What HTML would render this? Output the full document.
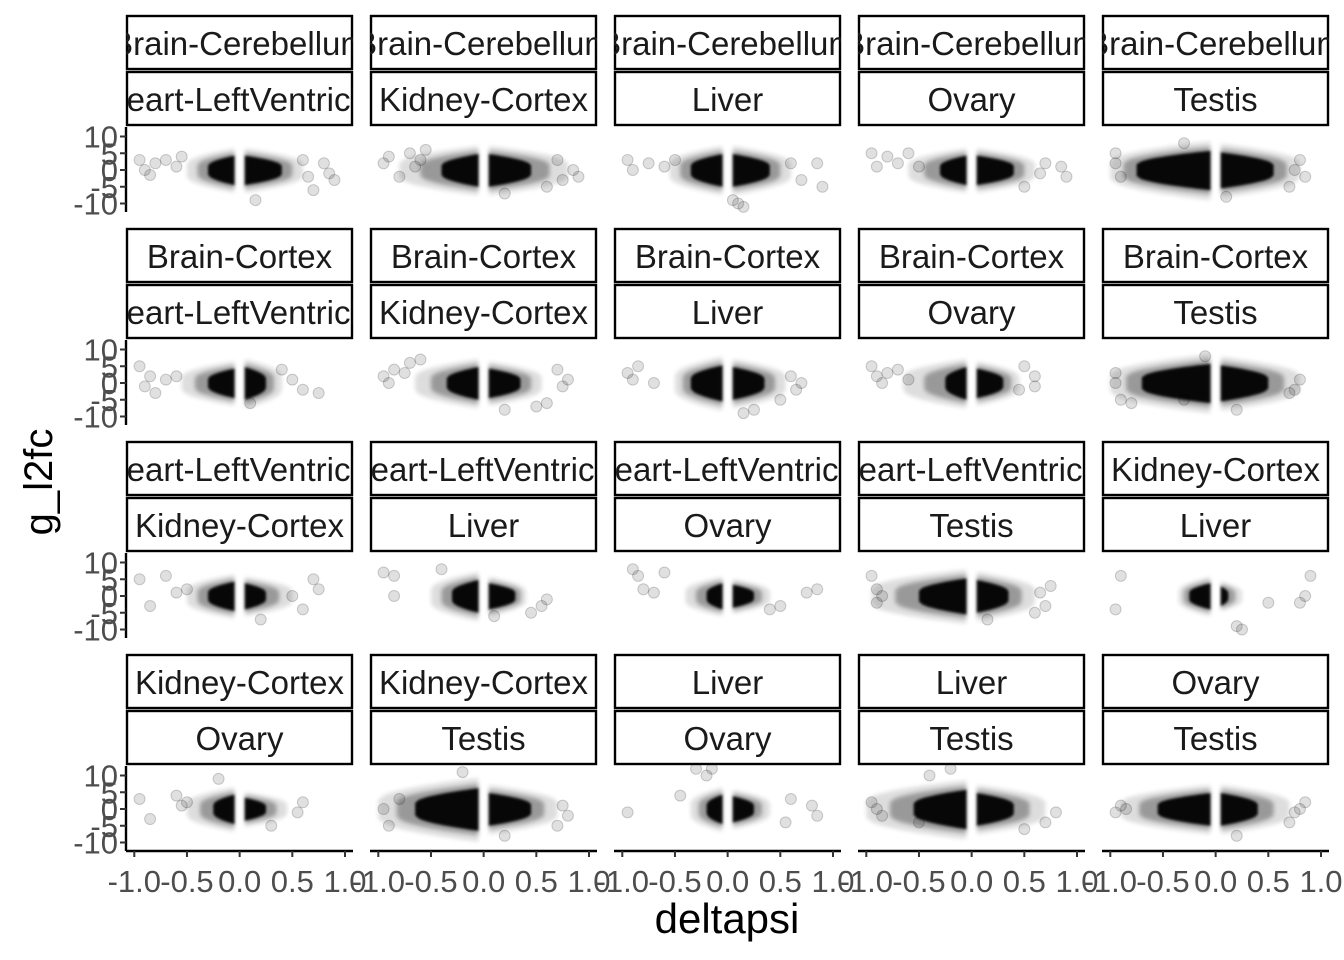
<!DOCTYPE html>
<html><head><meta charset="utf-8"><style>
html,body{margin:0;padding:0;background:#fff;}
svg{display:block;}
</style></head><body>
<svg id="chart" width="1344" height="960" xmlns="http://www.w3.org/2000/svg" font-family="Liberation Sans, sans-serif">
<defs>
  <filter id="soft" x="-20%" y="-40%" width="140%" height="180%"><feGaussianBlur stdDeviation="2.2"/></filter>
  <filter id="core" x="-20%" y="-40%" width="140%" height="180%"><feGaussianBlur stdDeviation="1.2"/></filter>
</defs>
<text x="52" y="482" font-size="40" text-anchor="middle" transform="rotate(-90 52 482)" fill="#000">g_l2fc</text>
<text x="727" y="933" font-size="42" text-anchor="middle" fill="#000">deltapsi</text>
</svg>
<script>
const topLabels = ["Brain-Cerebellum","Brain-Cerebellum","Brain-Cerebellum","Brain-Cerebellum","Brain-Cerebellum",
  "Brain-Cortex","Brain-Cortex","Brain-Cortex","Brain-Cortex","Brain-Cortex",
  "Heart-LeftVentricle","Heart-LeftVentricle","Heart-LeftVentricle","Heart-LeftVentricle","Kidney-Cortex",
  "Kidney-Cortex","Kidney-Cortex","Liver","Liver","Ovary"];
const bottomLabels = ["Heart-LeftVentricle","Kidney-Cortex","Liver","Ovary","Testis",
  "Heart-LeftVentricle","Kidney-Cortex","Liver","Ovary","Testis",
  "Kidney-Cortex","Liver","Ovary","Testis","Liver",
  "Ovary","Testis","Ovary","Testis","Testis"];
const xTicks = [-1, -0.5, 0, 0.5, 1];
const xTickLabels = ["-1.0","-0.5","0.0","0.5","1.0"];
const yTicks = [10, 5, 0, -5, -10];
const yTickLabels = ["10","5","0","-5","-10"];
// dense cluster extents (deltapsi) and half-heights (g_l2fc)
const leftMin  = [-0.3,-0.4,-0.35,-0.3,-0.75, -0.3,-0.35,-0.35,-0.25,-0.7, -0.3,-0.3,-0.2,-0.5,-0.25, -0.25,-0.65,-0.2,-0.55,-0.55];
const leftH    = [4.5,5,5,4.5,6, 4.5,5,5.5,5,6, 4.5,5,4,5.5,4, 4.5,6.5,4.5,6,5];
const rightMax = [0.4,0.45,0.4,0.4,0.55, 0.25,0.35,0.35,0.3,0.5, 0.25,0.3,0.25,0.35,0.12, 0.25,0.45,0.25,0.4,0.4];
const rightH   = [4.5,5,5,4.5,5.5, 5,4.5,5,4.5,5.5, 4,4,3.5,5,3, 3.5,5,4,5,5];
const haloLeft = [-0.5,-0.8,-0.55,-0.6,-1, -0.55,-0.65,-0.5,-0.65,-1, -0.5,-0.5,-0.4,-0.95,-0.35, -0.5,-1,-0.35,-1,-0.9];
const haloRight= [0.6,0.8,0.6,0.6,0.8, 0.4,0.55,0.55,0.45,0.8, 0.5,0.4,0.4,0.6,0.25, 0.45,0.7,0.4,0.7,0.7];
// outlier points per panel: [deltapsi, g_l2fc]
const outliers = [
 [[-0.95,3],[-0.9,0],[-0.85,-1.5],[-0.8,2],[-0.7,3],[-0.6,1],[0.8,2],[0.9,-3],[0.7,-6],[0.15,-9],[0.85,-1],[-0.55,4],[0.6,3],[0.65,-2]],
 [[-0.95,2],[-0.9,4],[-0.8,-2],[-0.7,5],[-0.6,3],[-0.55,6],[0.7,3],[0.85,0],[0.9,-2],[0.6,-5],[0.2,-7],[-0.65,1],[0.75,-3]],
 [[-0.95,3],[-0.9,0],[-0.75,2],[-0.6,1],[0.7,-3],[0.85,2],[0.9,-5],[0.1,-10],[0.15,-11],[0.05,-9],[-0.5,3],[0.6,2]],
 [[-0.95,5],[-0.9,1],[-0.8,4],[-0.7,2],[-0.6,5],[0.7,2],[0.85,1],[0.9,-2],[0.5,-5],[-0.5,1],[0.65,-1]],
 [[-0.95,2],[-0.9,-2],[0.8,3],[0.85,-2],[0.7,-5],[-0.3,8],[0.1,-8],[-0.95,5],[0.75,0]],
 [[-0.95,5],[-0.9,-1],[-0.85,2],[-0.8,-3],[-0.7,1],[0.5,1],[0.6,-2],[0.75,-3],[0.1,-6],[-0.6,2],[0.4,4]],
 [[-0.95,2],[-0.9,0],[-0.85,4],[-0.7,6],[-0.6,7],[0.7,4],[0.75,-1],[0.6,-6],[0.5,-7],[0.2,-8],[-0.75,3],[0.8,1]],
 [[-0.95,3],[-0.9,1],[-0.85,5],[-0.7,0],[0.6,2],[0.65,-2],[0.5,-5],[0.15,-9],[0.25,-8],[0.7,0]],
 [[-0.95,5],[-0.9,2],[-0.85,0],[-0.7,4],[-0.6,1],[0.5,5],[0.6,-1],[0.6,2],[-0.8,3],[0.45,-2]],
 [[-0.95,3],[-0.9,-5],[-0.8,-6],[0.8,1],[0.75,-2],[-0.3,-5],[0.2,-8],[-0.1,8],[-0.95,0],[0.7,-3]],
 [[-0.95,5],[-0.85,-3],[-0.7,6],[-0.6,1],[0.7,5],[0.75,2],[0.6,-4],[0.2,-7],[-0.5,2],[0.5,0]],
 [[-0.95,7],[-0.85,6],[-0.85,0],[-0.4,8],[0.55,-3],[0.6,-1],[0.1,-6],[0.45,-5]],
 [[-0.9,8],[-0.85,6],[-0.8,2],[-0.6,7],[-0.7,1],[0.75,1],[0.85,2],[0.5,-3],[0.4,-4]],
 [[-0.95,6],[-0.9,2],[-0.85,0],[0.7,-3],[0.75,3],[0.6,-5],[0.15,-7],[-0.9,-2],[0.65,1]],
 [[-0.95,-4],[-0.9,6],[0.8,-2],[0.9,6],[0.85,0],[0.2,-9],[0.25,-10],[0.5,-2]],
 [[-0.95,3],[-0.85,-3],[-0.6,4],[-0.55,1],[0.6,2],[0.55,-1],[0.3,-5],[-0.2,9],[-0.5,2]],
 [[-0.95,0],[-0.9,-5],[-0.8,3],[0.8,-2],[0.7,-5],[-0.2,11],[0.2,-8],[0.75,1]],
 [[-0.95,-1],[-0.45,4],[-0.3,12],[-0.15,12],[-0.2,10],[0.6,3],[0.8,1],[0.85,-2],[0.55,-4]],
 [[-0.95,2],[-0.85,-2],[-0.4,10],[-0.2,12],[0.8,-1],[0.7,-4],[0.5,-6],[-0.5,-4],[-0.9,0]],
 [[-0.95,-1],[-0.9,1],[0.8,0],[0.85,2],[0.7,-4],[0.2,-8],[-0.85,0],[0.75,-1]]
];

const NS = "http://www.w3.org/2000/svg";
const svg = document.getElementById("chart");
function mk(tag, attrs, parent){
  const e = document.createElementNS(NS, tag);
  for (const k in attrs) e.setAttribute(k, attrs[k]);
  (parent||svg).appendChild(e);
  return e;
}
const colLeft = c => 126 + 244*c;
const rowTop = r => 126 + 213*r;
const PW = 227;
function xScale(c, v){ return colLeft(c) + 8.3 + (v+1)*105.35; }
function yScale(r, v){ return rowTop(r) + 44 - v*3.35; }

function clusterPath(c, r, x0, x1, hNear, side){
  const pts = [];
  const n = 16;
  const hAt = t => { const frac = side<0 ? t : 1-t; return hNear*(0.3+0.7*Math.pow(frac,0.55)); };
  for (let i=0;i<=n;i++){
    const t = i/n, v = x0 + (x1-x0)*t;
    pts.push([xScale(c,v), yScale(r,hAt(t)*0.95)]);
  }
  for (let i=n;i>=0;i--){
    const t = i/n, v = x0 + (x1-x0)*t;
    pts.push([xScale(c,v), yScale(r,-hAt(t))]);
  }
  return "M" + pts.map(p=>p[0].toFixed(1)+","+p[1].toFixed(1)).join("L") + "Z";
}

for (let i=0;i<20;i++){
  const r = Math.floor(i/5), c = i%5;
  const L = colLeft(c), T = rowTop(r);
  const g = mk("g", {});
  
  
  const stripTops = [T-111, T-55];
  const labels = [topLabels[i], bottomLabels[i]];
  for (let s=0;s<2;s++){
    const sg = mk("g", {}, g);
    
    
    const clipId = "clip"+i+"_"+s;
    const cp = mk("clipPath", {id: clipId}, sg);
    mk("rect", {x:L, y:stripTops[s], width:PW, height:54}, cp);
    mk("rect", {x:L+1, y:stripTops[s]+1, width:PW-2, height:53, fill:"#fff", stroke:"#000", "stroke-width":2.4}, sg);
    const t = mk("text", {x:L+PW/2, y:stripTops[s]+40, "font-size":33, "text-anchor":"middle", fill:"#1a1a1a", "clip-path":"url(#"+clipId+")"}, sg);
    t.textContent = labels[s];
  }
  const cg = mk("g", {}, g);
  
  
  mk("path", {d: clusterPath(c,r,haloLeft[i],-0.05,leftH[i]*1.5,-1), fill:"#000", opacity:0.13, filter:"url(#soft)"}, cg);
  mk("path", {d: clusterPath(c,r,0.05,haloRight[i],rightH[i]*1.5,1), fill:"#000", opacity:0.13, filter:"url(#soft)"}, cg);
  mk("path", {d: clusterPath(c,r,(leftMin[i]+haloLeft[i])/2,-0.05,leftH[i]*1.2,-1), fill:"#000", opacity:0.3, filter:"url(#soft)"}, cg);
  mk("path", {d: clusterPath(c,r,0.05,(rightMax[i]+haloRight[i])/2,rightH[i]*1.2,1), fill:"#000", opacity:0.3, filter:"url(#soft)"}, cg);
  mk("path", {d: clusterPath(c,r,leftMin[i],-0.05,leftH[i],-1), fill:"#000", opacity:0.95, filter:"url(#core)"}, cg);
  mk("path", {d: clusterPath(c,r,0.05,rightMax[i],rightH[i],1), fill:"#000", opacity:0.95, filter:"url(#core)"}, cg);
  outliers[i].forEach(p=>{
    const pt = mk("circle", {cx:xScale(c,p[0]), cy:yScale(r,p[1]), r:5.5, fill:"rgba(0,0,0,0.12)", stroke:"rgba(0,0,0,0.18)", "stroke-width":1}, cg);
    
    
  });
  if (c===0){
    const ya = mk("g", {}, g);
    
    
    mk("line", {x1:L, y1:T+1, x2:L, y2:T+86, stroke:"#000", "stroke-width":2.4}, ya);
    yTicks.forEach((v,k)=>{
      const y = yScale(r,v);
      mk("line", {x1:L-6, y1:y, x2:L, y2:y, stroke:"#333", "stroke-width":2}, ya);
      const t = mk("text", {x:L-8, y:y+11, "font-size":31, "text-anchor":"end", fill:"#4d4d4d"}, ya);
      t.textContent = yTickLabels[k];
    });
  }
  if (r===3){
    const xa = mk("g", {}, g);
    
    
    mk("line", {x1:L, y1:T+86, x2:L+PW, y2:T+86, stroke:"#000", "stroke-width":2.4}, xa);
    xTicks.forEach((v,k)=>{
      const x = xScale(c,v);
      mk("line", {x1:x, y1:T+86, x2:x, y2:T+92, stroke:"#333", "stroke-width":2}, xa);
      const t = mk("text", {x:x, y:T+127, "font-size":31, "text-anchor":"middle", fill:"#4d4d4d"}, xa);
      t.textContent = xTickLabels[k];
    });
  }
}
</script>
</body></html>
